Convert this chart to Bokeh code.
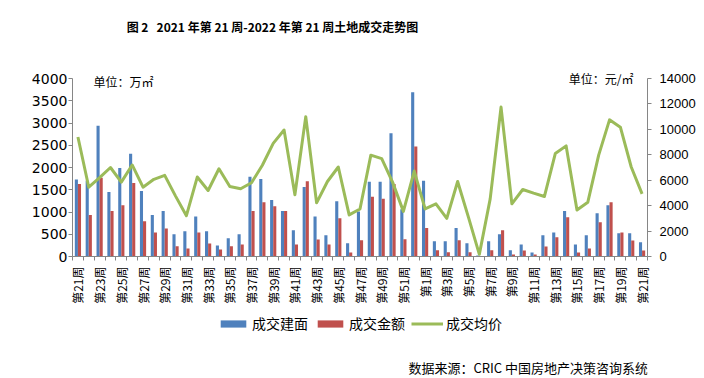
from bokeh.plotting import figure
from bokeh.layouts import column
from bokeh.models import (Range1d, LinearAxis, FixedTicker, Label, Legend, LegendItem,
                          ColumnDataSource)
from bokeh.embed import file_html
from bokeh.resources import INLINE

weeks = ["第21周", "第22周", "第23周", "第24周", "第25周", "第26周", "第27周", "第28周",
         "第29周", "第30周", "第31周", "第32周", "第33周", "第34周", "第35周", "第36周",
         "第37周", "第38周", "第39周", "第40周", "第41周", "第42周", "第43周", "第44周",
         "第45周", "第46周", "第47周", "第48周", "第49周", "第50周", "第51周", "第52周",
         "第1周", "第2周", "第3周", "第4周", "第5周", "第6周", "第7周", "第8周",
         "第9周", "第10周", "第11周", "第12周", "第13周", "第14周", "第15周", "第16周",
         "第17周", "第18周", "第19周", "第20周", "第21周"]

# 成交建面 (万㎡)
area = [1730, 1700, 2940, 1450, 1990, 2310, 1470, 930, 1020, 500,
        570, 900, 570, 250, 410, 500, 1790, 1740, 1270, 1020,
        590, 1560, 900, 480, 1240, 300, 1010, 1680, 1680, 2770,
        1060, 3690, 1700, 345, 345, 640, 300, 20, 345, 500,
        140, 270, 90, 480, 540, 1020, 270, 480, 970, 1150,
        520, 520, 320]
# 成交金额 (亿元)
amount = [1630, 930, 1770, 1020, 1150, 1650, 790, 540, 630, 230,
          180, 540, 290, 160, 230, 270, 1020, 1220, 1130, 1020,
          270, 1690, 380, 270, 860, 90, 365, 1340, 1300, 1630,
          385, 2470, 640, 140, 95, 365, 95, 1, 140, 590,
          45, 136, 45, 226, 430, 880, 90, 180, 770, 1220,
          540, 360, 136]
# 成交均价 (元/㎡)
price = [9400, 5450, 6200, 7000, 5850, 7200, 5450, 6070, 6380, 4750,
         3210, 6250, 5190, 6900, 5500, 5330, 5800, 7180, 8900, 9950,
         4850, 11000, 4220, 5900, 7040, 3270, 3740, 7970, 7700, 5850,
         3550, 6720, 3740, 4140, 3000, 5900, 3080, 170, 4530, 11750,
         4140, 5270, 4980, 4720, 8100, 8700, 3660, 4270, 7970, 10750,
         10170, 7040, 4930]

left_ticks = [0, 500, 1000, 1500, 2000, 2500, 3000, 3500, 4000]
right_ticks = [0, 2000, 4000, 6000, 8000, 10000, 12000, 14000]
left_max = 4000
right_max = 14000

BLUE = "#4F81BD"
RED = "#C0504D"
GREEN = "#9BBB59"
AXIS = "#868686"
CJK = "Noto Sans CJK SC"

n = len(weeks)
idx = list(range(n))
bw = 0.286
src = ColumnDataSource(dict(
    x=idx,
    xb=[i - bw / 2 for i in idx],
    xr=[i + bw / 2 for i in idx],
    area=area, amount=amount, price=price))

W = 704
H1 = 312                  # main chart
H2 = 378 - H1             # legend + source strip
FRAME_L, FRAME_R, FRAME_B = 72, 647, 256      # page pixels
AXIS_TOP = 78                                  # page pixel of 4000 / 14000
stretch = FRAME_B / (FRAME_B - AXIS_TOP)       # frame reaches the canvas top

p = figure(width=W, height=H1, output_backend="svg", toolbar_location=None,
           x_range=Range1d(-0.5, n - 0.5), y_range=Range1d(0, left_max * stretch),
           min_border_left=FRAME_L, min_border_right=W - FRAME_R,
           min_border_top=0, min_border_bottom=H1 - FRAME_B)
p.extra_y_ranges = {"price": Range1d(0, right_max * stretch)}
p.outline_line_color = None
p.xgrid.visible = False
p.ygrid.visible = False
p.background_fill_color = "white"
p.border_fill_color = "white"

rb = p.vbar(x="xb", top="area", width=bw, source=src, fill_color=BLUE, line_color=None)
rr = p.vbar(x="xr", top="amount", width=bw, source=src, fill_color=RED, line_color=None)
rl = p.line(x="x", y="price", source=src, y_range_name="price", line_color=GREEN,
            line_width=3, line_join="round")

# x axis
xa = p.xaxis[0]
xa.ticker = FixedTicker(ticks=list(range(0, n, 2)), minor_ticks=[i - 0.5 for i in range(n + 1)])
xa.major_label_overrides = {i: weeks[i] for i in range(0, n, 2)}
xa.major_label_orientation = 3.14159265 / 2
xa.major_tick_out = 0
xa.major_tick_in = 0
xa.minor_tick_out = 4
xa.minor_tick_in = 0
xa.minor_tick_line_color = AXIS
xa.axis_line_color = AXIS
xa.major_label_standoff = 6
xa.major_label_text_font = CJK
xa.major_label_text_font_size = "12px"
xa.major_label_text_color = "black"

# left axis
ya = p.yaxis[0]
ya.ticker = FixedTicker(ticks=left_ticks)
ya.bounds = (0, left_max)
ya.minor_tick_line_color = None
ya.major_tick_out = 4
ya.major_tick_in = 0
ya.major_tick_line_color = AXIS
ya.axis_line_color = AXIS
ya.major_label_standoff = 1
ya.major_label_text_font = "DejaVu Sans"
ya.major_label_text_font_size = "14px"
ya.major_label_text_color = "black"

# right axis
ra = LinearAxis(y_range_name="price", ticker=FixedTicker(ticks=right_ticks), bounds=(0, right_max))
ra.minor_tick_line_color = None
ra.major_tick_out = 4
ra.major_tick_in = 0
ra.major_tick_line_color = AXIS
ra.axis_line_color = AXIS
ra.major_label_standoff = 8
ra.major_label_text_font = "Liberation Sans"
ra.major_label_text_font_size = "13px"
ra.major_label_text_color = "black"
p.add_layout(ra, "right")

# helpers converting page pixel positions of annotations into data coords
def sx(px):
    return -0.5 + (px - FRAME_L) * n / (FRAME_R - FRAME_L)

def sy(py):
    return (FRAME_B - py) * left_max / (FRAME_B - AXIS_TOP)

p.add_layout(Label(x=sx(272), y=sy(26),
                   text="图 2\u00a0\u00a0\u00a02021 年第 21 周-2022 年第 21 周土地成交走势图",
                   text_align="center", text_baseline="middle", text_font=CJK,
                   text_font_size="12px", text_font_style="bold", text_color="black"))
p.add_layout(Label(x=sx(93), y=sy(80.5), text="单位：万㎡", text_align="left",
                   text_baseline="middle", text_font=CJK, text_font_size="12px", text_color="black"))
p.add_layout(Label(x=sx(633), y=sy(77.5), text="单位：元/㎡", text_align="right",
                   text_baseline="middle", text_font=CJK, text_font_size="12px", text_color="black"))

# ---- strip below: legend + source ----
p2 = figure(width=W, height=H2, output_backend="svg", toolbar_location=None,
            x_range=Range1d(FRAME_L, FRAME_R), y_range=Range1d(0, H2),
            x_axis_location=None, y_axis_location=None, min_border=0)
p2.outline_line_color = None
p2.xgrid.visible = False
p2.ygrid.visible = False
p2.background_fill_color = "white"
p2.border_fill_color = "white"

kb = p2.vbar(x="xb", top="area", width=bw, source=src, fill_color=BLUE, line_color=None, visible=False)
kr = p2.vbar(x="xr", top="amount", width=bw, source=src, fill_color=RED, line_color=None, visible=False)
kl = p2.line(x="x", y="price", source=src, line_color=GREEN, line_width=3, visible=False)

legend = Legend(items=[LegendItem(label="成交建面", renderers=[kb]),
                       LegendItem(label="成交金额", renderers=[kr]),
                       LegendItem(label="成交均价", renderers=[kl])],
                orientation="horizontal", location=(145, H2 - 21),
                label_text_font=CJK, label_text_font_size="14px", label_text_color="black",
                glyph_width=32, glyph_height=9, label_standoff=3, spacing=6, label_height=20,
                padding=0, margin=0, border_line_color=None, background_fill_alpha=0,
                inactive_fill_alpha=0)
p2.add_layout(legend, "center")

p2.add_layout(Label(x=408, y=H2 - (366.5 - H1), text="数据来源：CRIC 中国房地产决策咨询系统",
                    text_align="left", text_baseline="middle", text_font=CJK,
                    text_font_size="13px", text_color="black"))

layout = column(p, p2, spacing=0)
open("out.html", "w").write(file_html(layout, INLINE))
